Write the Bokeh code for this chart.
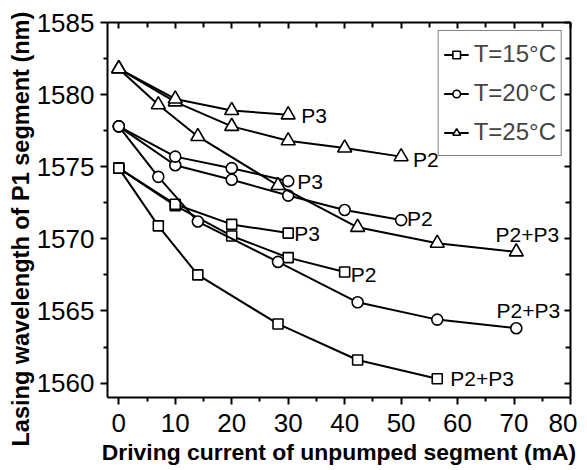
from bokeh.plotting import figure
from bokeh.models import LinearAxis, FixedTicker, Range1d, Legend, LegendItem, Title
from bokeh.embed import file_html
from bokeh.resources import INLINE
from bokeh.core.properties import value

# ---------------- data ----------------
x_15_p23 = [0, 7, 14, 28.2, 42.3, 56.4]
y_15_p23 = [1574.9, 1570.9, 1567.5, 1564.1, 1561.6, 1560.3]
x_15_p2 = [0, 10, 20, 30, 40]
y_15_p2 = [1574.9, 1572.3, 1570.2, 1568.7, 1567.7]
x_15_p3 = [0, 10, 20, 30]
y_15_p3 = [1574.9, 1572.4, 1571.0, 1570.4]

x_20_p23 = [0, 7, 14, 28.2, 42.3, 56.4, 70.4]
y_20_p23 = [1577.8, 1574.3, 1571.2, 1568.4, 1565.6, 1564.4, 1563.8]
x_20_p2 = [0, 10, 20, 30, 40, 50]
y_20_p2 = [1577.8, 1575.1, 1574.1, 1573.0, 1572.0, 1571.3]
x_20_p3 = [0, 10, 20, 30]
y_20_p3 = [1577.8, 1575.7, 1574.9, 1574.0]

x_25_p23 = [0, 7, 14, 28.2, 42.3, 56.4, 70.4]
y_25_p23 = [1581.8, 1579.3, 1577.1, 1573.7, 1570.8, 1569.7, 1569.1]
x_25_p2 = [0, 10, 20, 30, 40, 50]
y_25_p2 = [1581.8, 1579.5, 1577.8, 1576.8, 1576.3, 1575.7]
x_25_p3 = [0, 10, 20, 30]
y_25_p3 = [1581.8, 1579.7, 1578.9, 1578.6]

legend_labels = ["T=15°C", "T=20°C", "T=25°C"]
series_labels = ["P2+P3", "P2", "P3"]
x_ticks = [0, 10, 20, 30, 40, 50, 60, 70, 80]
y_ticks = [1560, 1565, 1570, 1575, 1580, 1585]
x_title = "Driving current of unpumped segment (mA)"
y_title = "Lasing wavelength of P1 segment (nm)"

FONT = "Liberation Sans"

p = figure(frame_width=463, frame_height=375,
           x_range=Range1d(-2, 80), y_range=Range1d(1559.0, 1585.0),
           output_backend="svg", toolbar_location=None,
           min_border_left=101, min_border_right=7, min_border_top=22, min_border_bottom=70)
p.grid.visible = False
p.outline_line_color = None
p.background_fill_color = "white"
p.border_fill_color = "white"

xt = FixedTicker(ticks=x_ticks, minor_ticks=[v + 5 for v in x_ticks[:-1]])
yt = FixedTicker(ticks=y_ticks, minor_ticks=[v + 2.5 for v in y_ticks[:-1]])

for ax in p.xaxis:
    ax.ticker = xt
for ax in p.yaxis:
    ax.ticker = yt

def style_main(ax):
    ax.axis_line_width = 2
    ax.axis_line_color = "black"
    ax.major_tick_line_width = 2
    ax.minor_tick_line_width = 2
    ax.major_tick_in = 0
    ax.major_tick_out = 7
    ax.minor_tick_in = 0
    ax.minor_tick_out = 4
    ax.major_label_text_font = FONT
    ax.major_label_text_font_size = "26px"
    ax.major_label_text_color = "black"
    ax.axis_label_text_font = FONT
    ax.axis_label_text_font_style = "bold"
    ax.axis_label_text_color = "black"

style_main(p.xaxis[0])
style_main(p.yaxis[0])
p.xaxis[0].axis_label = x_title
p.xaxis[0].axis_label_text_font_size = "22.9px"
p.xaxis[0].major_label_standoff = 9
p.xaxis[0].axis_label_standoff = 4
p.yaxis[0].major_label_standoff = 6

ytitle = Title(text=y_title, align="left", offset=-54, standoff=0,
               padding=(5, 0, 0, 0),
               text_font=FONT, text_font_size="23.5px", text_font_style="bold",
               text_color="black")
p.add_layout(ytitle, "left")

def mirror(ticker):
    ax = LinearAxis(ticker=ticker)
    ax.axis_line_width = 2
    ax.axis_line_color = "black"
    ax.major_tick_line_width = 2
    ax.minor_tick_line_width = 2
    ax.major_tick_in = 6
    ax.major_tick_out = 0
    ax.minor_tick_in = 5
    ax.minor_tick_out = 0
    ax.major_label_text_font_size = "0px"
    ax.major_label_text_alpha = 0
    ax.major_label_standoff = 0
    return ax

p.add_layout(mirror(xt), "above")
p.add_layout(mirror(yt), "right")

markers = {"15": ("square", 10), "20": ("circle", 11), "25": ("triangle", 14)}
groups = {
    "15": [(x_15_p23, y_15_p23), (x_15_p2, y_15_p2), (x_15_p3, y_15_p3)],
    "20": [(x_20_p23, y_20_p23), (x_20_p2, y_20_p2), (x_20_p3, y_20_p3)],
    "25": [(x_25_p23, y_25_p23), (x_25_p2, y_25_p2), (x_25_p3, y_25_p3)],
}

legend_rs = {}
for key in ["15", "20", "25"]:
    mk, sz = markers[key]
    for i, (xs, ys) in enumerate(groups[key]):
        rl = p.line(xs, ys, line_color="black", line_width=2)
        rm = p.scatter(xs, ys, marker=mk, size=sz, fill_color="white",
                       line_color="black", line_width=1.6)
        if i == 0:
            legend_rs[key] = [rl, rm]

# series labels at last points: (group, series index, dx, dy, align)
label_specs = [
    ("15", 0, 13, 0, "left"), ("15", 1, 6, 2, "left"), ("15", 2, 6, 0, "left"),
    ("20", 0, 12, -18, "center"), ("20", 1, 6, -2, "left"), ("20", 2, 9, 0, "left"),
    ("25", 0, 11, -17, "center"), ("25", 1, 12, 3, "left"), ("25", 2, 13, 1, "left"),
]
for key, idx, dx, dy, al in label_specs:
    xs, ys = groups[key][idx]
    p.text(x=[xs[-1]], y=[ys[-1]], text=[series_labels[idx]],
           x_offset=dx, y_offset=dy, text_align=al, text_baseline="middle",
           text_font=value(FONT), text_font_size="21px", text_color="black")

items = [LegendItem(label=legend_labels[i], renderers=legend_rs[k])
         for i, k in enumerate(["15", "20", "25"])]
legend = Legend(items=items, location="top_right", margin=8,
                padding=5, spacing=3, glyph_width=25, glyph_height=19,
                label_height=36, label_standoff=5,
                label_text_font=FONT, label_text_font_size="24px",
                border_line_color="black", border_line_width=1.5,
                background_fill_color="white", background_fill_alpha=1)
p.add_layout(legend)

open("out.html", "w").write(file_html(p, INLINE))
